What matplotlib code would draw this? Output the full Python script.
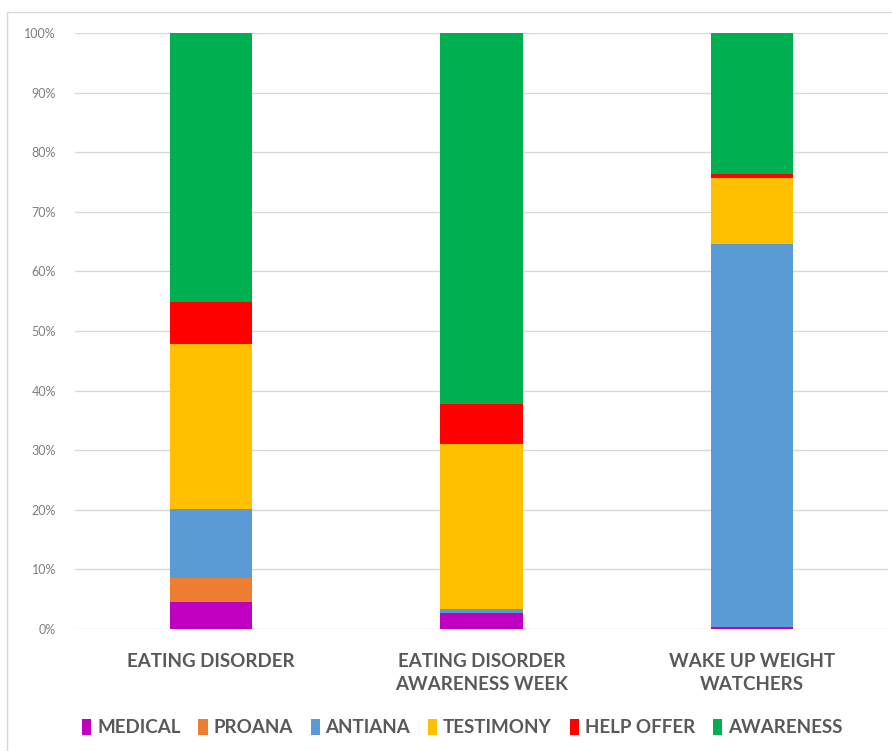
import matplotlib
matplotlib.use("Agg")
import matplotlib.pyplot as plt
from matplotlib.patches import Rectangle
import numpy as np

categories = ["EATING DISORDER", "EATING DISORDER\nAWARENESS WEEK", "WAKE UP WEIGHT\nWATCHERS"]
series_names = ["MEDICAL", "PROANA", "ANTIANA", "TESTIMONY", "HELP OFFER", "AWARENESS"]
medical = [4.5, 2.7, 0.3]
proana = [4.1, 0.0, 0.0]
antiana = [11.5, 0.6, 64.3]
testimony = [27.7, 27.7, 11.1]
help_offer = [7.1, 6.7, 0.6]
awareness = [45.1, 62.3, 23.7]
colors = ["#C000C0", "#ED7D31", "#5B9BD5", "#FFC000", "#FF0000", "#00B050"]
ytick_labels = ["0%", "10%", "20%", "30%", "40%", "50%", "60%", "70%", "80%", "90%", "100%"]

plt.rcParams['font.family'] = ['Lato', 'DejaVu Sans']

fig = plt.figure(figsize=(8.92, 7.51), dpi=100)
ax = fig.add_axes([0.0846, 0.1625, 0.9104, 0.7935])

x = np.arange(len(categories))
bottom = np.zeros(len(categories))
for name, vals, c in zip(series_names, [medical, proana, antiana, testimony, help_offer, awareness], colors):
    ax.bar(x, vals, bottom=bottom, width=0.305, color=c, label=name, zorder=3)
    bottom += np.array(vals)

ax.set_xlim(-0.5, 2.5)
ax.set_ylim(0, 100)
ax.set_yticks(np.arange(0, 101, 10))
ax.set_yticklabels(ytick_labels, fontsize=9, color="#7F7F7F")
ax.yaxis.grid(True, color="#D9D9D9", linewidth=1.0, zorder=0)
ax.tick_params(axis='y', length=0, pad=14)
ax.set_xticks(x)
ax.set_xticklabels(categories, fontsize=13.5, fontweight='bold', color="#595959", linespacing=1.45)
ax.tick_params(axis='x', length=0, pad=17)
for s in ax.spines.values():
    s.set_visible(False)

handles, labels = ax.get_legend_handles_labels()
leg = fig.legend(handles, labels, loc='center', bbox_to_anchor=(0.518, 0.031), ncol=6,
                 frameon=False, fontsize=13.5, handlelength=0.5, handleheight=0.9,
                 handletextpad=0.3, columnspacing=0.95)
for t in leg.get_texts():
    t.set_color("#595959")
    t.set_fontweight('bold')

fig.patches.append(Rectangle((7/892, -0.01), 1.0, 1 - 12/751 + 0.01, transform=fig.transFigure,
                             fill=False, edgecolor="#D9D9D9", linewidth=1.0))

fig.savefig("out.png", dpi=100)
